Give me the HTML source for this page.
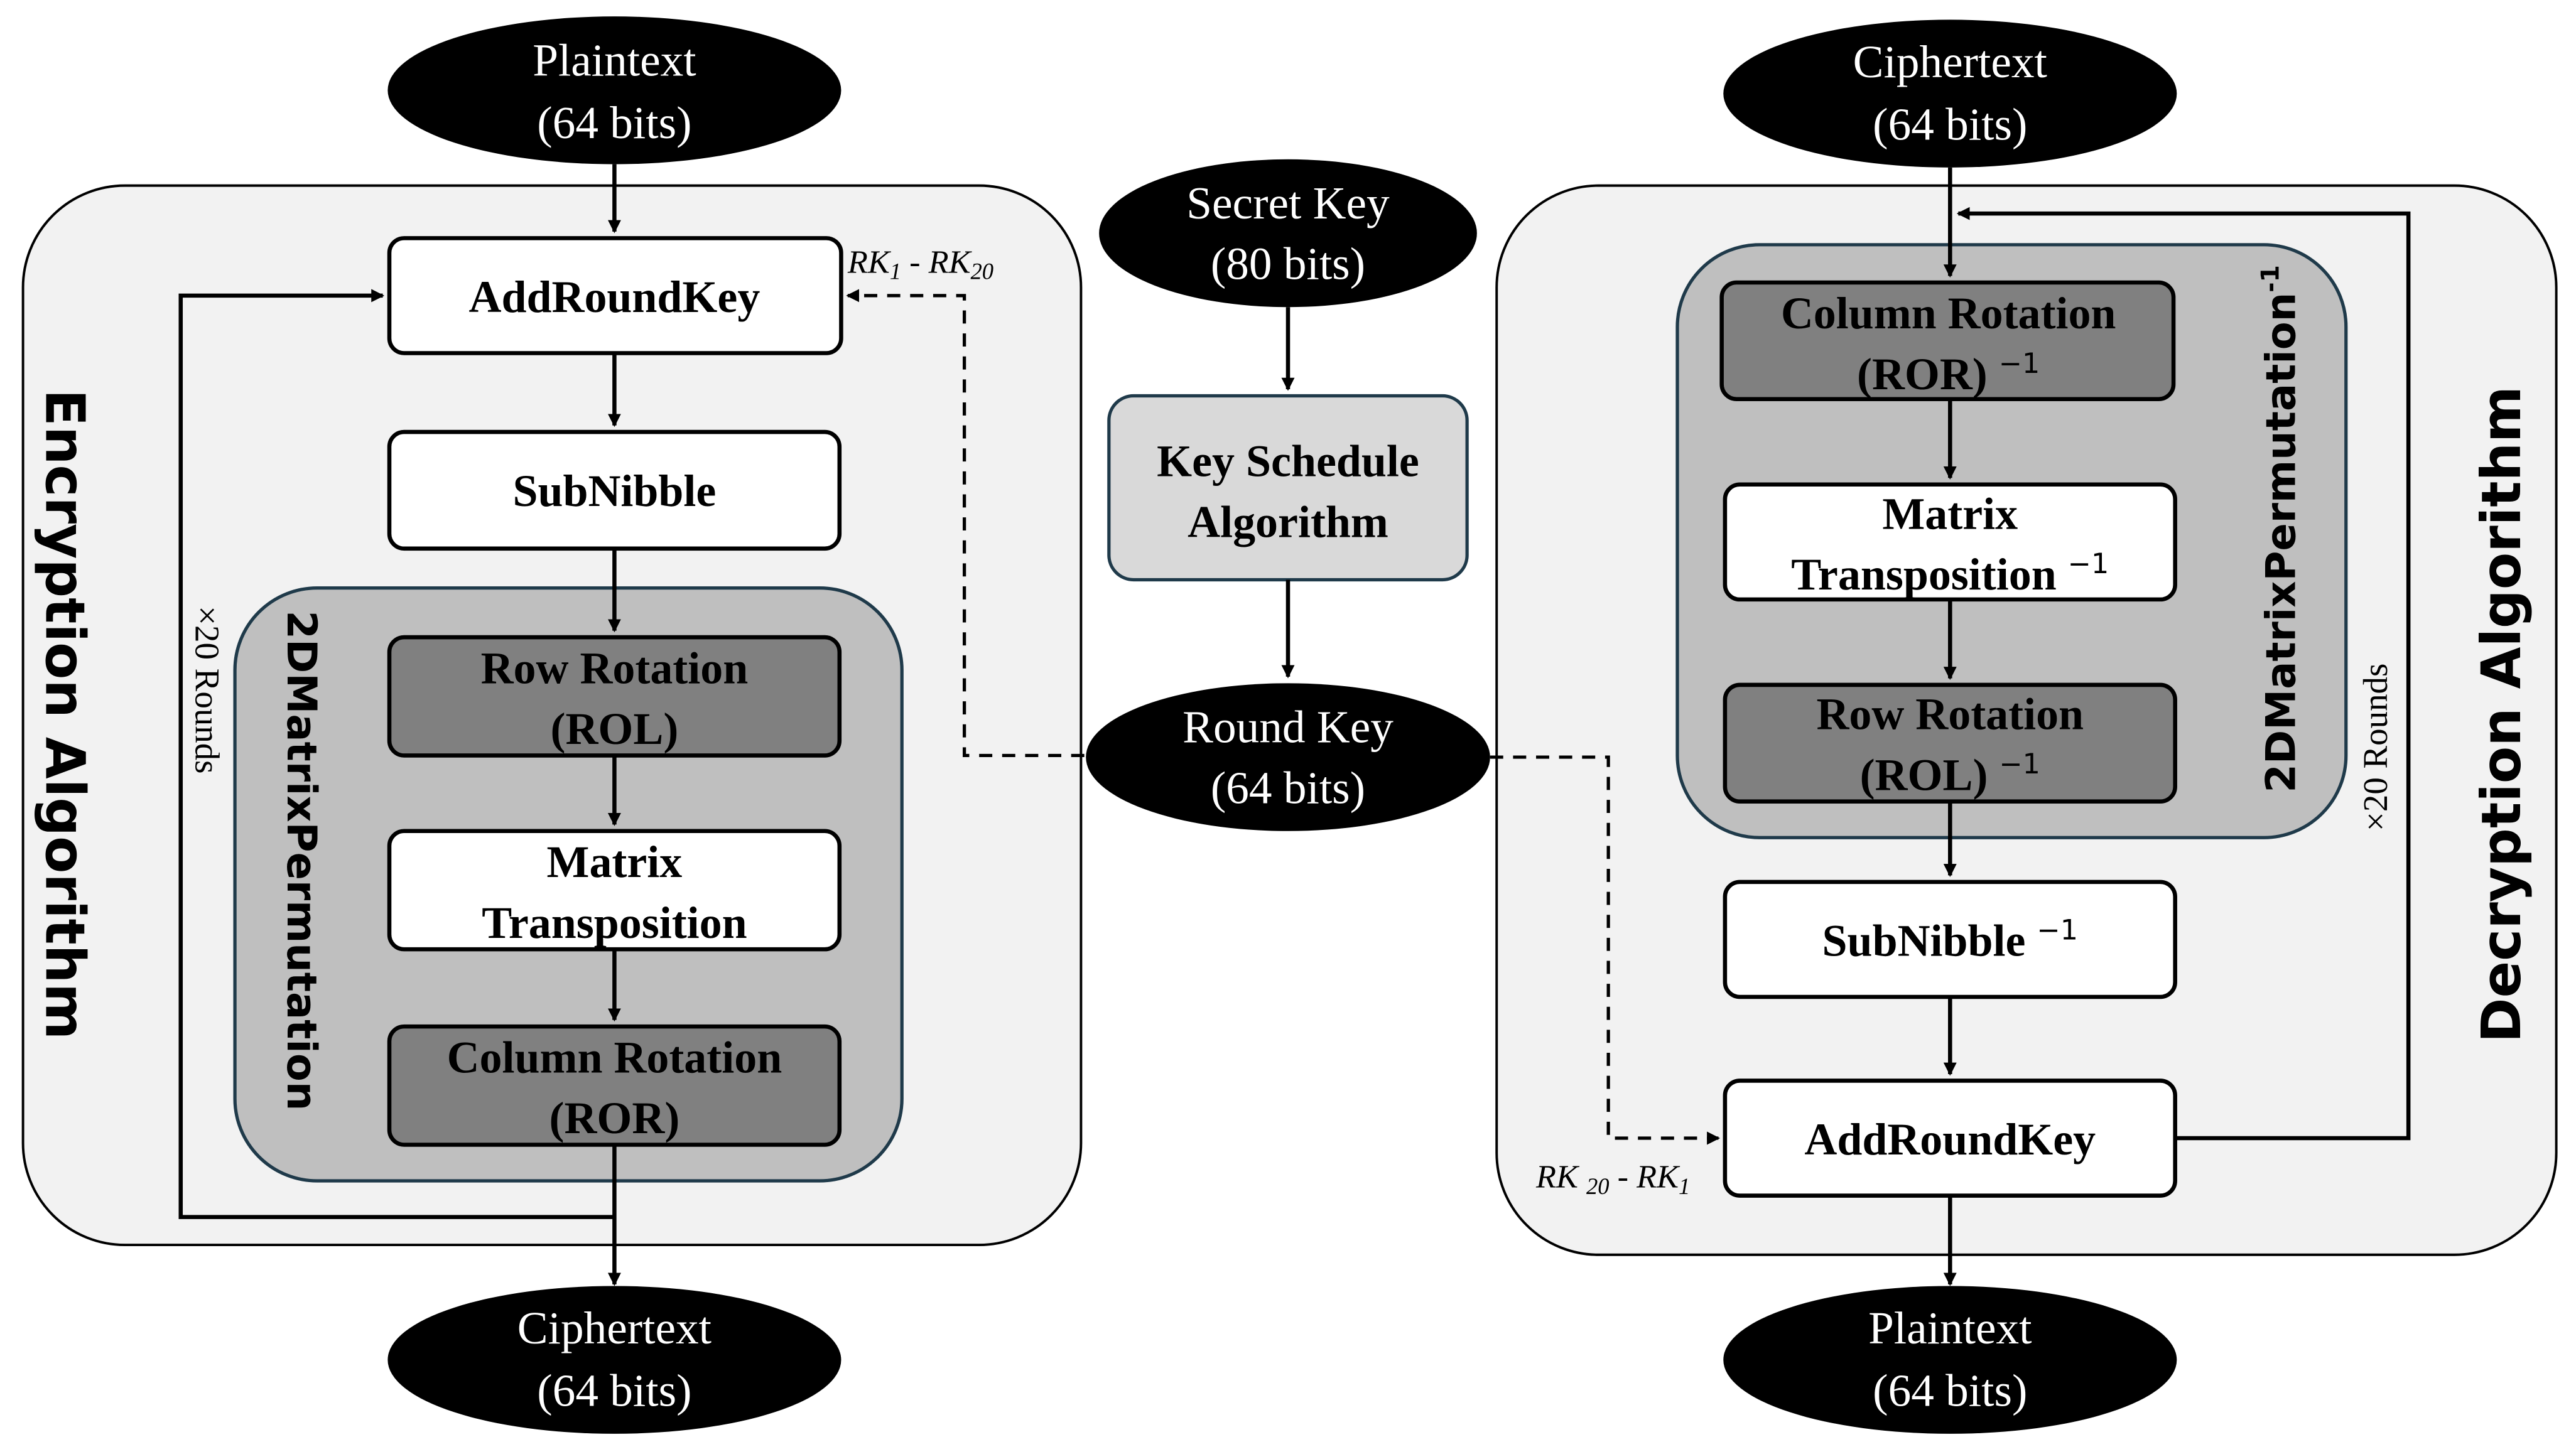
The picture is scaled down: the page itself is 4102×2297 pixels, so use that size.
<!DOCTYPE html>
<html><head><meta charset="utf-8"><style>html,body{margin:0;padding:0;background:#fff}svg{display:block}</style></head>
<body>
<svg width="4102" height="2297" viewBox="0 0 1568 878" preserveAspectRatio="none" xmlns="http://www.w3.org/2000/svg">
<defs>
<marker id="a" markerWidth="8" markerHeight="8" refX="7" refY="4" orient="auto" markerUnits="userSpaceOnUse"><path d="M0,0 L8,4 L0,8 Z" fill="#000"/></marker>
</defs>
<rect width="1568" height="878" fill="#fff"/>
<g font-family="Liberation Serif, serif">
<!-- Left outer -->
<rect x="14" y="113" width="644" height="645" rx="62" fill="#f2f2f2" stroke="#000" stroke-width="1.5"/>
<rect x="143" y="358" width="406" height="361" rx="50" fill="#bfbfbf" stroke="#1f3a4a" stroke-width="2"/>
<g stroke="#000" stroke-width="2.5">
<rect x="237" y="145" width="275" height="70" rx="9" fill="#fff"/>
<rect x="237" y="263" width="274" height="71" rx="9" fill="#fff"/>
<rect x="237" y="388" width="274" height="72" rx="9" fill="#808080"/>
<rect x="237" y="506" width="274" height="72" rx="9" fill="#fff"/>
<rect x="237" y="625" width="274" height="72" rx="9" fill="#808080"/>
</g>
<ellipse cx="374" cy="55" rx="138" ry="45" fill="#000"/>
<ellipse cx="374" cy="828" rx="138" ry="45" fill="#000"/>
<g stroke="#000" stroke-width="2.5" fill="none">
<line x1="374" y1="100" x2="374" y2="141" marker-end="url(#a)"/>
<line x1="374" y1="215" x2="374" y2="259" marker-end="url(#a)"/>
<line x1="374" y1="334" x2="374" y2="384" marker-end="url(#a)"/>
<line x1="374" y1="460" x2="374" y2="502" marker-end="url(#a)"/>
<line x1="374" y1="578" x2="374" y2="621" marker-end="url(#a)"/>
<line x1="374" y1="697" x2="374" y2="782" marker-end="url(#a)"/>
<polyline points="374,741 110,741 110,180 233,180" marker-end="url(#a)"/>
<polyline points="660,460 587,460 587,180 516,180" stroke-dasharray="8,6" stroke-width="2" marker-end="url(#a)"/>
</g>
<g text-anchor="middle" font-size="28" fill="#fff">
<text x="374" y="46">Plaintext</text><text x="374" y="84">(64 bits)</text>
<text x="374" y="818">Ciphertext</text><text x="374" y="856">(64 bits)</text>
</g>
<g text-anchor="middle" font-size="27.5" font-weight="bold" fill="#000">
<text x="374" y="190">AddRoundKey</text>
<text x="374" y="308">SubNibble</text>
<text x="374" y="416">Row Rotation</text><text x="374" y="453">(ROL)</text>
<text x="374" y="534">Matrix</text><text x="374" y="571">Transposition</text>
<text x="374" y="653">Column Rotation</text><text x="374" y="690">(ROR)</text>
</g>
<text x="516" y="166" font-size="20" font-style="italic">RK<tspan font-size="14" dy="4">1</tspan><tspan dy="-4"> - RK</tspan><tspan font-size="14" dy="4">20</tspan></text>
<text transform="translate(119,420) rotate(90)" font-size="21" text-anchor="middle">×20 Rounds</text>
<text transform="translate(175,524) rotate(90)" font-family="DejaVu Sans, sans-serif" font-weight="bold" font-size="25" text-anchor="middle">2DMatrixPermutation</text>
<text transform="translate(28,435) rotate(90)" font-family="DejaVu Sans, sans-serif" font-weight="bold" font-size="33" text-anchor="middle">Encryption Algorithm</text>

<!-- Middle -->
<ellipse cx="784" cy="142" rx="115" ry="45" fill="#000"/>
<rect x="675" y="241" width="218" height="112" rx="15" fill="#d9d9d9" stroke="#1f3a4a" stroke-width="2"/>
<ellipse cx="784" cy="461" rx="123" ry="45" fill="#000"/>
<g stroke="#000" stroke-width="2.5">
<line x1="784" y1="187" x2="784" y2="237" marker-end="url(#a)"/>
<line x1="784" y1="353" x2="784" y2="412" marker-end="url(#a)"/>
</g>
<g text-anchor="middle" font-size="28" fill="#fff">
<text x="784" y="133">Secret Key</text><text x="784" y="170">(80 bits)</text>
<text x="784" y="452">Round Key</text><text x="784" y="489">(64 bits)</text>
</g>
<g text-anchor="middle" font-size="27.5" font-weight="bold">
<text x="784" y="290">Key Schedule</text><text x="784" y="327">Algorithm</text>
</g>

<!-- Right outer -->
<rect x="911" y="113" width="645" height="651" rx="62" fill="#f2f2f2" stroke="#000" stroke-width="1.5"/>
<rect x="1021" y="149" width="407" height="361" rx="50" fill="#bfbfbf" stroke="#1f3a4a" stroke-width="2"/>
<g stroke="#000" stroke-width="2.5">
<rect x="1048" y="172" width="275" height="71" rx="9" fill="#808080"/>
<rect x="1050" y="295" width="274" height="70" rx="9" fill="#fff"/>
<rect x="1050" y="417" width="274" height="71" rx="9" fill="#808080"/>
<rect x="1050" y="537" width="274" height="70" rx="9" fill="#fff"/>
<rect x="1050" y="658" width="274" height="70" rx="9" fill="#fff"/>
</g>
<ellipse cx="1187" cy="57" rx="138" ry="45" fill="#000"/>
<ellipse cx="1187" cy="828" rx="138" ry="45" fill="#000"/>
<g stroke="#000" stroke-width="2.5" fill="none">
<line x1="1187" y1="102" x2="1187" y2="168" marker-end="url(#a)"/>
<line x1="1187" y1="243" x2="1187" y2="291" marker-end="url(#a)"/>
<line x1="1187" y1="365" x2="1187" y2="413" marker-end="url(#a)"/>
<line x1="1187" y1="488" x2="1187" y2="533" marker-end="url(#a)"/>
<line x1="1187" y1="607" x2="1187" y2="654" marker-end="url(#a)"/>
<line x1="1187" y1="728" x2="1187" y2="782" marker-end="url(#a)"/>
<polyline points="1324,693 1466,693 1466,130 1192,130" marker-end="url(#a)"/>
<polyline points="907,461 979,461 979,693 1046,693" stroke-dasharray="8,6" stroke-width="2" marker-end="url(#a)"/>
</g>
<g text-anchor="middle" font-size="28" fill="#fff">
<text x="1187" y="47">Ciphertext</text><text x="1187" y="85">(64 bits)</text>
<text x="1187" y="818">Plaintext</text><text x="1187" y="856">(64 bits)</text>
</g>
<g text-anchor="middle" font-size="27.5" font-weight="bold">
<text x="1186" y="200">Column Rotation</text><text x="1186" y="237">(ROR) <tspan font-family="DejaVu Sans, sans-serif" font-weight="normal" font-size="17" dy="-10">−1</tspan></text>
<text x="1187" y="322">Matrix</text><text x="1187" y="359">Transposition <tspan font-family="DejaVu Sans, sans-serif" font-weight="normal" font-size="17" dy="-10">−1</tspan></text>
<text x="1187" y="444">Row Rotation</text><text x="1187" y="481">(ROL) <tspan font-family="DejaVu Sans, sans-serif" font-weight="normal" font-size="17" dy="-10">−1</tspan></text>
<text x="1187" y="582">SubNibble <tspan font-family="DejaVu Sans, sans-serif" font-weight="normal" font-size="17" dy="-10">−1</tspan></text>
<text x="1187" y="703">AddRoundKey</text>
</g>
<text x="935" y="723" font-size="20" font-style="italic">RK <tspan font-size="14" dy="4">20</tspan><tspan dy="-4"> - RK</tspan><tspan font-size="14" dy="4">1</tspan></text>
<text transform="translate(1453,455) rotate(-90)" font-size="21" text-anchor="middle">×20 Rounds</text>
<text transform="translate(1397,322) rotate(-90)" font-family="DejaVu Sans, sans-serif" font-weight="bold" font-size="25" text-anchor="middle">2DMatrixPermutation<tspan font-size="15" dy="-10">-1</tspan></text>
<text transform="translate(1534,435) rotate(-90)" font-family="DejaVu Sans, sans-serif" font-weight="bold" font-size="33" text-anchor="middle">Decryption Algorithm</text>
</g>
</svg>
</body></html>
